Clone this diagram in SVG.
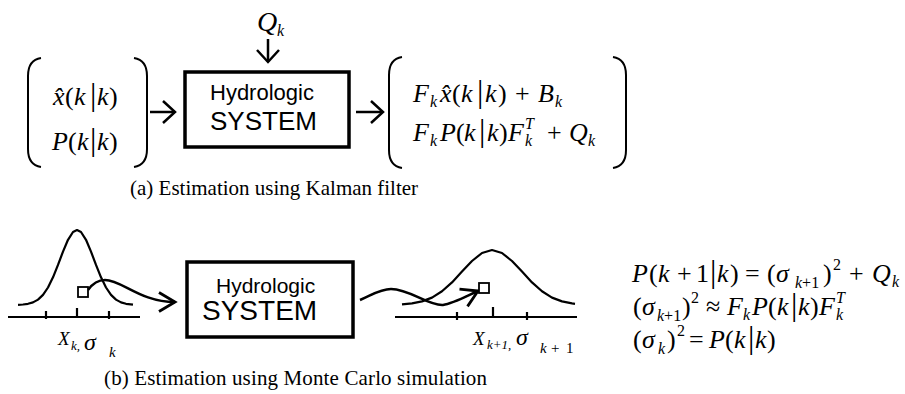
<svg xmlns="http://www.w3.org/2000/svg" width="905" height="394" viewBox="0 0 905 394">
<style>
.m{font-family:"Liberation Serif","Times New Roman",serif;font-style:italic;font-size:26px;fill:#000}
.u{font-style:normal}
.s{font-size:16px}
.bar{font-style:normal;font-size:32px}
.sans{font-family:"Liberation Sans",Arial,sans-serif;fill:#000}
.cap{font-family:"Liberation Serif","Times New Roman",serif;font-size:21px;fill:#000}
.br{fill:none;stroke:#000;stroke-width:2}
.box{fill:#fff;stroke:#000;stroke-width:3.5}
.ln{fill:none;stroke:#000;stroke-width:2.2;stroke-linejoin:round}
.conn{fill:none;stroke:#000;stroke-width:2.5}
.sq{fill:#fff;stroke:#000;stroke-width:1.8}
</style>
<defs>
<marker id="ah" markerUnits="userSpaceOnUse" viewBox="-20 -20 40 40" markerWidth="40" markerHeight="40" refX="0" refY="0" orient="auto" overflow="visible">
<path d="M-12,-11 L0,0 L-12,11" fill="none" stroke="#000" stroke-width="2.5"/>
</marker>
<marker id="ah2" markerUnits="userSpaceOnUse" viewBox="-20 -20 40 40" markerWidth="40" markerHeight="40" refX="0" refY="0" orient="auto" overflow="visible">
<path d="M-16,-9.5 L0,0 L-16,9.5" fill="none" stroke="#000" stroke-width="2.8"/>
</marker>
</defs>

<g id="q-input">
<text class="m"><tspan x="257" y="31" font-size="28">Q</tspan><tspan class="s" x="277" y="36">k</tspan></text>
</g>

<g id="state-in">
<path class="br" d="M41 58 Q28 60 28 76 L28 149 Q28 165 41 167"/>
<path class="br" d="M134 58 Q147 60 147 76 L147 149 Q147 165 134 167"/>
<text class="m" y="105"><tspan x="53">x̂</tspan><tspan class="u" x="65">(</tspan><tspan x="74">k</tspan><tspan class="bar" x="90">|</tspan><tspan x="97">k</tspan><tspan class="u" x="109">)</tspan></text>
<text class="m" y="150"><tspan x="52">P</tspan><tspan class="u" x="68">(</tspan><tspan x="77">k</tspan><tspan class="bar" x="90">|</tspan><tspan x="97">k</tspan><tspan class="u" x="109">)</tspan></text>
</g>

<g id="system-kf">
<rect class="box" x="185" y="72" width="164" height="75"/>
<text class="sans" x="210" y="100" font-size="22">Hydrologic</text>
<text class="sans" x="210" y="130" font-size="26">SYSTEM</text>
</g>

<g id="state-out">
<path class="br" d="M402 57 Q389 59 389 75 L389 150 Q389 166 402 168"/>
<path class="br" d="M613 57 Q626 59 626 75 L626 150 Q626 166 613 168"/>
<text class="m"><tspan x="413" y="102">F</tspan><tspan class="s" x="430" y="107">k</tspan><tspan x="440" y="102">x̂</tspan><tspan class="u" x="452">(</tspan><tspan x="461">k</tspan><tspan class="bar" x="477">|</tspan><tspan x="485">k</tspan><tspan class="u" x="498">)</tspan><tspan class="u" x="515">+</tspan><tspan x="538">B</tspan><tspan class="s" x="555" y="107">k</tspan></text>
<text class="m"><tspan x="413" y="141">F</tspan><tspan class="s" x="430" y="146">k</tspan><tspan x="440" y="141">P</tspan><tspan class="u" x="456">(</tspan><tspan x="464">k</tspan><tspan class="bar" x="479">|</tspan><tspan x="487">k</tspan><tspan class="u" x="499">)</tspan><tspan x="508">F</tspan><tspan class="s" x="525" y="129">T</tspan><tspan class="s" x="525" y="146">k</tspan><tspan class="u" x="547" y="141">+</tspan><tspan x="569">Q</tspan><tspan class="s" x="588" y="146">k</tspan></text>
</g>

<g id="caption-a">
<text class="cap" x="130" y="195">(a) Estimation using Kalman filter</text>
</g>

<g id="pdf-k">
<path class="ln" d="M8 317 H140 M46 311 V319 M77 308 V317 M109 311 V319"/>
<path class="ln" d="M18 304.8 L23 304.5 L28 303.8 L33 302.4 L38 299.6 L43 294.9 L48 287.5 L53 277.3 L58 264.9 L63 251.6 L68 239.8 L73 232 L77 230 L81 232 L86 239.8 L91 251.6 L96 264.9 L101 277.3 L106 287.5 L111 294.9 L116 299.6 L121 302.4 L126 303.8 L133 304.7"/>
<text class="m"><tspan x="58" y="345" font-size="19">X</tspan><tspan x="71" y="350" font-size="13">k,</tspan><tspan x="84" y="350" font-size="24">σ</tspan><tspan x="109" y="357" font-size="15">k</tspan></text>
</g>

<g id="system-mc">
<rect class="box" x="187" y="262" width="166" height="75"/>
<text class="sans" x="216" y="293" font-size="21">Hydrologic</text>
<text class="sans" x="202" y="320" font-size="28">SYSTEM</text>
</g>

<g id="pdf-k1">
<path class="ln" d="M395 317 H577 M457 312 V320 M493 307 V317 M527 312 V320"/>
<path class="ln" d="M402 304.4 L412 303.4 L422 301.4 L432 297.6 L442 291.3 L452 282.4 L462 271.6 L472 261 L482 253 L492 250 L502 253 L512 261 L522 271.6 L532 282.4 L542 291.3 L552 297.6 L562 301.4 L572 303.4 L575 303.8"/>
<text class="m"><tspan x="473" y="345" font-size="19">X</tspan><tspan x="487" y="349" font-size="13">k+1,</tspan><tspan x="516" y="345" font-size="24">σ</tspan><tspan x="540" y="353" font-size="15">k</tspan><tspan class="u" x="551" y="353" font-size="15">+</tspan><tspan class="u" x="566" y="353" font-size="15">1</tspan></text>
</g>

<g id="caption-b">
<text class="cap" x="104" y="385" textLength="383">(b) Estimation using Monte Carlo simulation</text>
</g>

<g id="connectors">
<path class="conn" d="M150 112 L175 112" marker-end="url(#ah)"/>
<path class="conn" d="M356 112 L383 112" marker-end="url(#ah)"/>
<path class="conn" d="M268 39 L268 62" marker-end="url(#ah)"/>
<path class="conn" d="M88 290 C93 283 99 280 105 280 C122 280 140 302 175 302" marker-end="url(#ah2)"/>
<path class="conn" d="M360 300 C372 295 380 289 391 289 C410 289 428 306 443 305 C452 304 463 298 478 291" marker-end="url(#ah2)"/>
<rect class="sq" x="78" y="287" width="10" height="10"/>
<rect class="sq" x="479" y="283" width="10" height="10"/>
</g>

<g id="equations">
<text class="m"><tspan x="632" y="282">P</tspan><tspan class="u" x="649">(</tspan><tspan x="658">k</tspan><tspan class="u" x="677">+</tspan><tspan class="u" x="696">1</tspan><tspan class="bar" x="710">|</tspan><tspan x="717">k</tspan><tspan class="u" x="730">)</tspan><tspan class="u" x="745">=</tspan><tspan class="u" x="767">(</tspan><tspan x="776">σ</tspan><tspan class="s" x="795" y="288">k</tspan><tspan class="u s">+1</tspan><tspan class="u" x="823" y="282">)</tspan><tspan class="u s" x="833" y="270">2</tspan><tspan class="u" x="849" y="282">+</tspan><tspan x="872">Q</tspan><tspan class="s" x="892" y="287">k</tspan></text>
<text class="m"><tspan class="u" x="633" y="315">(</tspan><tspan x="642">σ</tspan><tspan class="s" x="657" y="321">k</tspan><tspan class="u s">+1</tspan><tspan class="u" x="682" y="315">)</tspan><tspan class="u s" x="691" y="303">2</tspan><tspan class="u" x="706" y="315">≈</tspan><tspan x="727">F</tspan><tspan class="s" x="743" y="320">k</tspan><tspan x="752" y="315">P</tspan><tspan class="u" x="768">(</tspan><tspan x="777">k</tspan><tspan class="bar" x="791">|</tspan><tspan x="798">k</tspan><tspan class="u" x="810">)</tspan><tspan x="819">F</tspan><tspan class="s" x="836" y="303">T</tspan><tspan class="s" x="836" y="320">k</tspan></text>
<text class="m"><tspan class="u" x="633" y="348">(</tspan><tspan x="642">σ</tspan><tspan class="s" x="658" y="354">k</tspan><tspan class="u" x="667" y="348">)</tspan><tspan class="u s" x="677" y="336">2</tspan><tspan class="u" x="689" y="348">=</tspan><tspan x="709">P</tspan><tspan class="u" x="725">(</tspan><tspan x="734">k</tspan><tspan class="bar" x="748">|</tspan><tspan x="755">k</tspan><tspan class="u" x="767">)</tspan></text>
</g>
</svg>
